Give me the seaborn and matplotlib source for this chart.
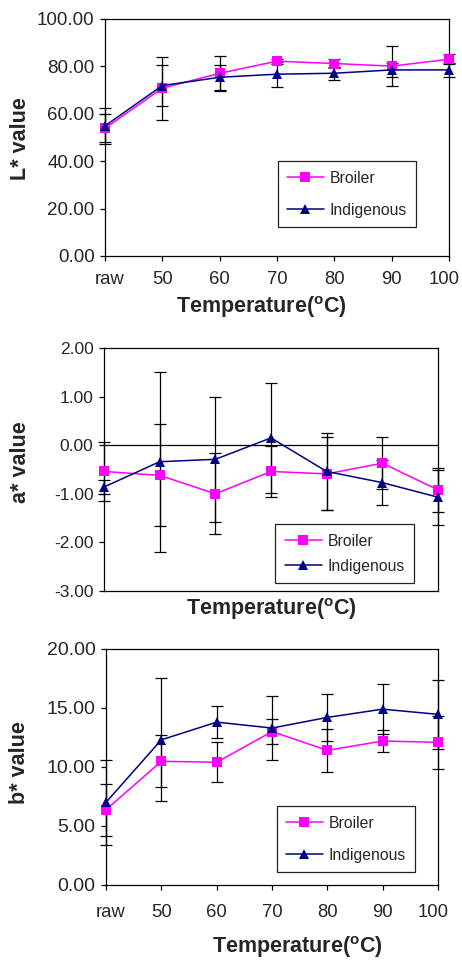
import numpy as np
import pandas as pd
import matplotlib
matplotlib.use("Agg")
import matplotlib.pyplot as plt
import matplotlib.transforms as mtransforms
import seaborn as sns

# ---------------- data ----------------
categories = ["raw", "50", "60", "70", "80", "90", "100"]
series_names = ["Broiler", "Indigenous"]

L_broiler = [53.9, 70.8, 77.1, 82.2, 81.2, 80.1, 83.0]
L_broiler_err = [5.9, 13.3, 7.35, 1.0, 1.9, 8.4, 2.1]
L_indig = [54.9, 71.9, 75.4, 76.7, 77.1, 78.5, 78.5]
L_indig_err = [7.5, 8.5, 5.3, 5.2, 2.8, 3.1, 2.8]

a_broiler = [-0.54, -0.62, -1.00, -0.54, -0.59, -0.37, -0.92]
a_broiler_err = [0.60, 1.05, 0.83, 0.53, 0.75, 0.53, 0.45]
a_indig = [-0.86, -0.34, -0.29, 0.15, -0.54, -0.77, -1.07]
a_indig_err = [0.14, 1.85, 1.29, 1.13, 0.80, 0.47, 0.57]

b_broiler = [6.38, 10.48, 10.40, 13.0, 11.41, 12.2, 12.09]
b_broiler_err = [2.2, 2.2, 1.7, 1.05, 1.8, 0.9, 2.26]
b_indig = [7.0, 12.3, 13.8, 13.3, 14.2, 14.9, 14.46]
b_indig_err = [3.6, 5.2, 1.35, 2.7, 2.0, 2.1, 2.9]

L_ticks = [0, 20, 40, 60, 80, 100]
a_ticks = [-3, -2, -1, 0, 1, 2]
b_ticks = [0, 5, 10, 15, 20]

colors = {"Broiler": "#FF00FF", "Indigenous": "#000080"}
markers = {"Broiler": "s", "Indigenous": "^"}

# ---------------- style ----------------
sns.set_style("white")
plt.rcParams["font.family"] = ["Liberation Sans", "DejaVu Sans"]
plt.rcParams["axes.unicode_minus"] = False
plt.rcParams["mathtext.fontset"] = "custom"
plt.rcParams["mathtext.rm"] = "Liberation Sans"
plt.rcParams["mathtext.bf"] = "Liberation Sans:bold"

fig = plt.figure(figsize=(4.62, 9.63), dpi=100)

xlabel_text = r"Temperature(${}^{\mathbf{o}}$C)"


def panel(rect, broiler, b_err, indig, i_err, yticks, ylabel,
          ylab_xy, xlab_xy, leg_anchor, leg_spacing, ytick_size,
          show_xticks=True, xpad=7, zero_line=False):
    ax = fig.add_axes(rect)
    n = len(categories)
    pos = np.arange(n)
    df = pd.DataFrame({
        "pos": np.concatenate([pos, pos]),
        "value": list(broiler) + list(indig),
        "series": [series_names[0]] * n + [series_names[1]] * n,
    })
    ax.errorbar(pos, broiler, yerr=b_err, fmt="none", ecolor="black",
                elinewidth=0.9, capsize=4.3, capthick=0.9, zorder=2,
                clip_on=False)
    ax.errorbar(pos, indig, yerr=i_err, fmt="none", ecolor="black",
                elinewidth=0.9, capsize=4.3, capthick=0.9, zorder=2,
                clip_on=False)
    sns.lineplot(data=df, x="pos", y="value", hue="series", style="series",
                 palette=colors, markers=markers, dashes=False,
                 markersize=7.8, linewidth=1.1, markeredgewidth=0,
                 ax=ax, zorder=3)
    for ln in ax.lines:
        ln.set_clip_on(False)
    if zero_line:
        ax.axhline(0, color="black", linewidth=0.9, zorder=1)

    ax.set_xlim(0, n - 1)
    ax.set_ylim(yticks[0], yticks[-1])
    ax.set_yticks(yticks)
    ax.set_yticklabels([f"{v:.2f}" for v in yticks], fontsize=ytick_size)
    ax.set_xticks(pos)
    if show_xticks:
        ax.set_xticklabels(categories, fontsize=13.3)
        ax.tick_params(axis="x", direction="out", length=3.5, width=0.9,
                       color="black", pad=xpad, bottom=True)
        lbls = ax.get_xticklabels()
        shift_first = mtransforms.ScaledTranslation(5 / 100, 0, fig.dpi_scale_trans)
        shift_last = mtransforms.ScaledTranslation(-5 / 100, 0, fig.dpi_scale_trans)
        lbls[0].set_transform(lbls[0].get_transform() + shift_first)
        lbls[-1].set_transform(lbls[-1].get_transform() + shift_last)
    else:
        ax.set_xticklabels([])
        ax.tick_params(axis="x", length=0, labelbottom=False)
    ax.tick_params(axis="y", direction="out", length=3.5, width=0.9,
                   color="black", pad=4, left=True)
    for sp in ax.spines.values():
        sp.set_visible(True)
        sp.set_color("black")
        sp.set_linewidth(0.9)

    ax.set_ylabel(ylabel, fontsize=15.5, fontweight="bold",
                  ha="center", va="center")
    ax.yaxis.set_label_coords(*ylab_xy)
    ax.set_xlabel(xlabel_text, fontsize=15.5, fontweight="bold",
                  ha="center", va="center")
    ax.xaxis.set_label_coords(*xlab_xy)

    old = ax.get_legend()
    handles = old.legend_handles
    labels = [t.get_text() for t in old.get_texts()]
    old.remove()
    leg = ax.legend(handles, labels, loc="lower right",
                    bbox_to_anchor=leg_anchor, fontsize=11.3,
                    frameon=True, fancybox=False, shadow=False,
                    edgecolor="#222222", framealpha=1,
                    handlelength=2.35, handletextpad=0.35,
                    borderpad=0.6, labelspacing=leg_spacing,
                    borderaxespad=0)
    leg.get_frame().set_linewidth(0.9)
    for h in leg.legend_handles:
        h.set_markeredgewidth(0)
    return ax


panel([0.2273, 0.7342, 0.7446, 0.2461], L_broiler, L_broiler_err,
      L_indig, L_indig_err, L_ticks, "L* value",
      (-0.247, 0.494), (0.4535, -0.215), (0.904, 0.122), 1.08, 13.5,
      show_xticks=True, xpad=7)

panel([0.2251, 0.3863, 0.7229, 0.2523], a_broiler, a_broiler_err,
      a_indig, a_indig_err, a_ticks, "a* value",
      (-0.249, 0.529), (0.5, -0.075), (0.928, 0.033), 0.62, 12.5,
      show_xticks=False, zero_line=True)

panel([0.2294, 0.0810, 0.7186, 0.2451], b_broiler, b_broiler_err,
      b_indig, b_indig_err, b_ticks, "b* value",
      (-0.259, 0.517), (0.577, -0.262), (0.931, 0.055), 1.08, 14.0,
      show_xticks=True, xpad=10)

fig.savefig("out.png", dpi=100)
